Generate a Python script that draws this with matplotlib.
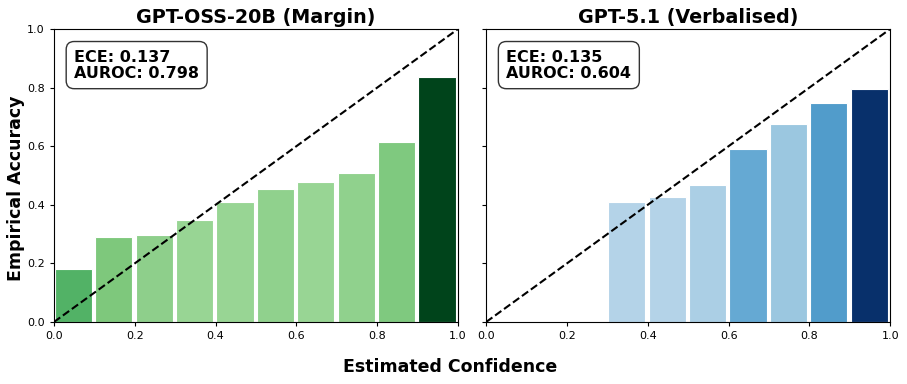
import matplotlib
matplotlib.use("Agg")
import matplotlib.pyplot as plt
import numpy as np

bin_edges = [0.0, 0.1, 0.2, 0.3, 0.4, 0.5, 0.6, 0.7, 0.8, 0.9]

left_title = "GPT-OSS-20B (Margin)"
left_acc = [0.180, 0.290, 0.297, 0.348, 0.409, 0.453, 0.477, 0.507, 0.615, 0.835]
left_colors = ["#52b266", "#7ec87c", "#8ecf8b", "#98d594", "#98d594",
               "#90d18d", "#98d594", "#90d18d", "#7fc97f", "#00441b"]
left_ece, left_auroc = 0.137, 0.798

right_title = "GPT-5.1 (Verbalised)"
right_bins = [0.3, 0.4, 0.5, 0.6, 0.7, 0.8, 0.9]
right_acc = [0.411, 0.427, 0.467, 0.592, 0.677, 0.747, 0.794]
right_colors = ["#b4d3e8", "#b4d3e8", "#abcfe5", "#65a9d3", "#9bc7e0", "#519ccb", "#08306b"]
right_ece, right_auroc = 0.135, 0.604

fig = plt.figure(figsize=(9.07, 3.84), dpi=100)
ax1 = fig.add_axes([0.0595, 0.1615, 0.4455, 0.763])
ax2 = fig.add_axes([0.536, 0.1615, 0.4455, 0.763])

def draw(ax, bins, acc, colors, title, ece, auroc):
    starts = np.asarray(bins) + 0.002
    ax.bar(starts, acc, width=0.092, align="edge", color=colors,
           edgecolor="white", linewidth=0.8)
    ax.plot([0, 1], [0, 1], "k--", linewidth=1.5)
    ax.set_xlim(0, 1)
    ax.set_ylim(0, 1)
    ax.set_title(title, fontsize=13.8, fontweight="bold", pad=4)
    ax.tick_params(labelsize=8, length=3)
    ax.text(0.05, 0.93, f"ECE: {ece:.3f}\nAUROC: {auroc:.3f}",
            transform=ax.transAxes, fontsize=11.5, fontweight="bold",
            va="top", ha="left", linespacing=1.1,
            bbox=dict(boxstyle="round,pad=0.5", facecolor="white",
                      edgecolor="#333333", linewidth=1))

draw(ax1, bin_edges, left_acc, left_colors, left_title, left_ece, left_auroc)
draw(ax2, right_bins, right_acc, right_colors, right_title, right_ece, right_auroc)
ax2.set_yticklabels([])
fig.text(0.018, 0.51, "Empirical Accuracy", fontsize=12.5, fontweight="bold",
         ha="center", va="center", rotation=90)
fig.text(0.496, 0.045, "Estimated Confidence", fontsize=12.5, fontweight="bold",
         ha="center", va="center")

fig.savefig("out.png", dpi=100)
